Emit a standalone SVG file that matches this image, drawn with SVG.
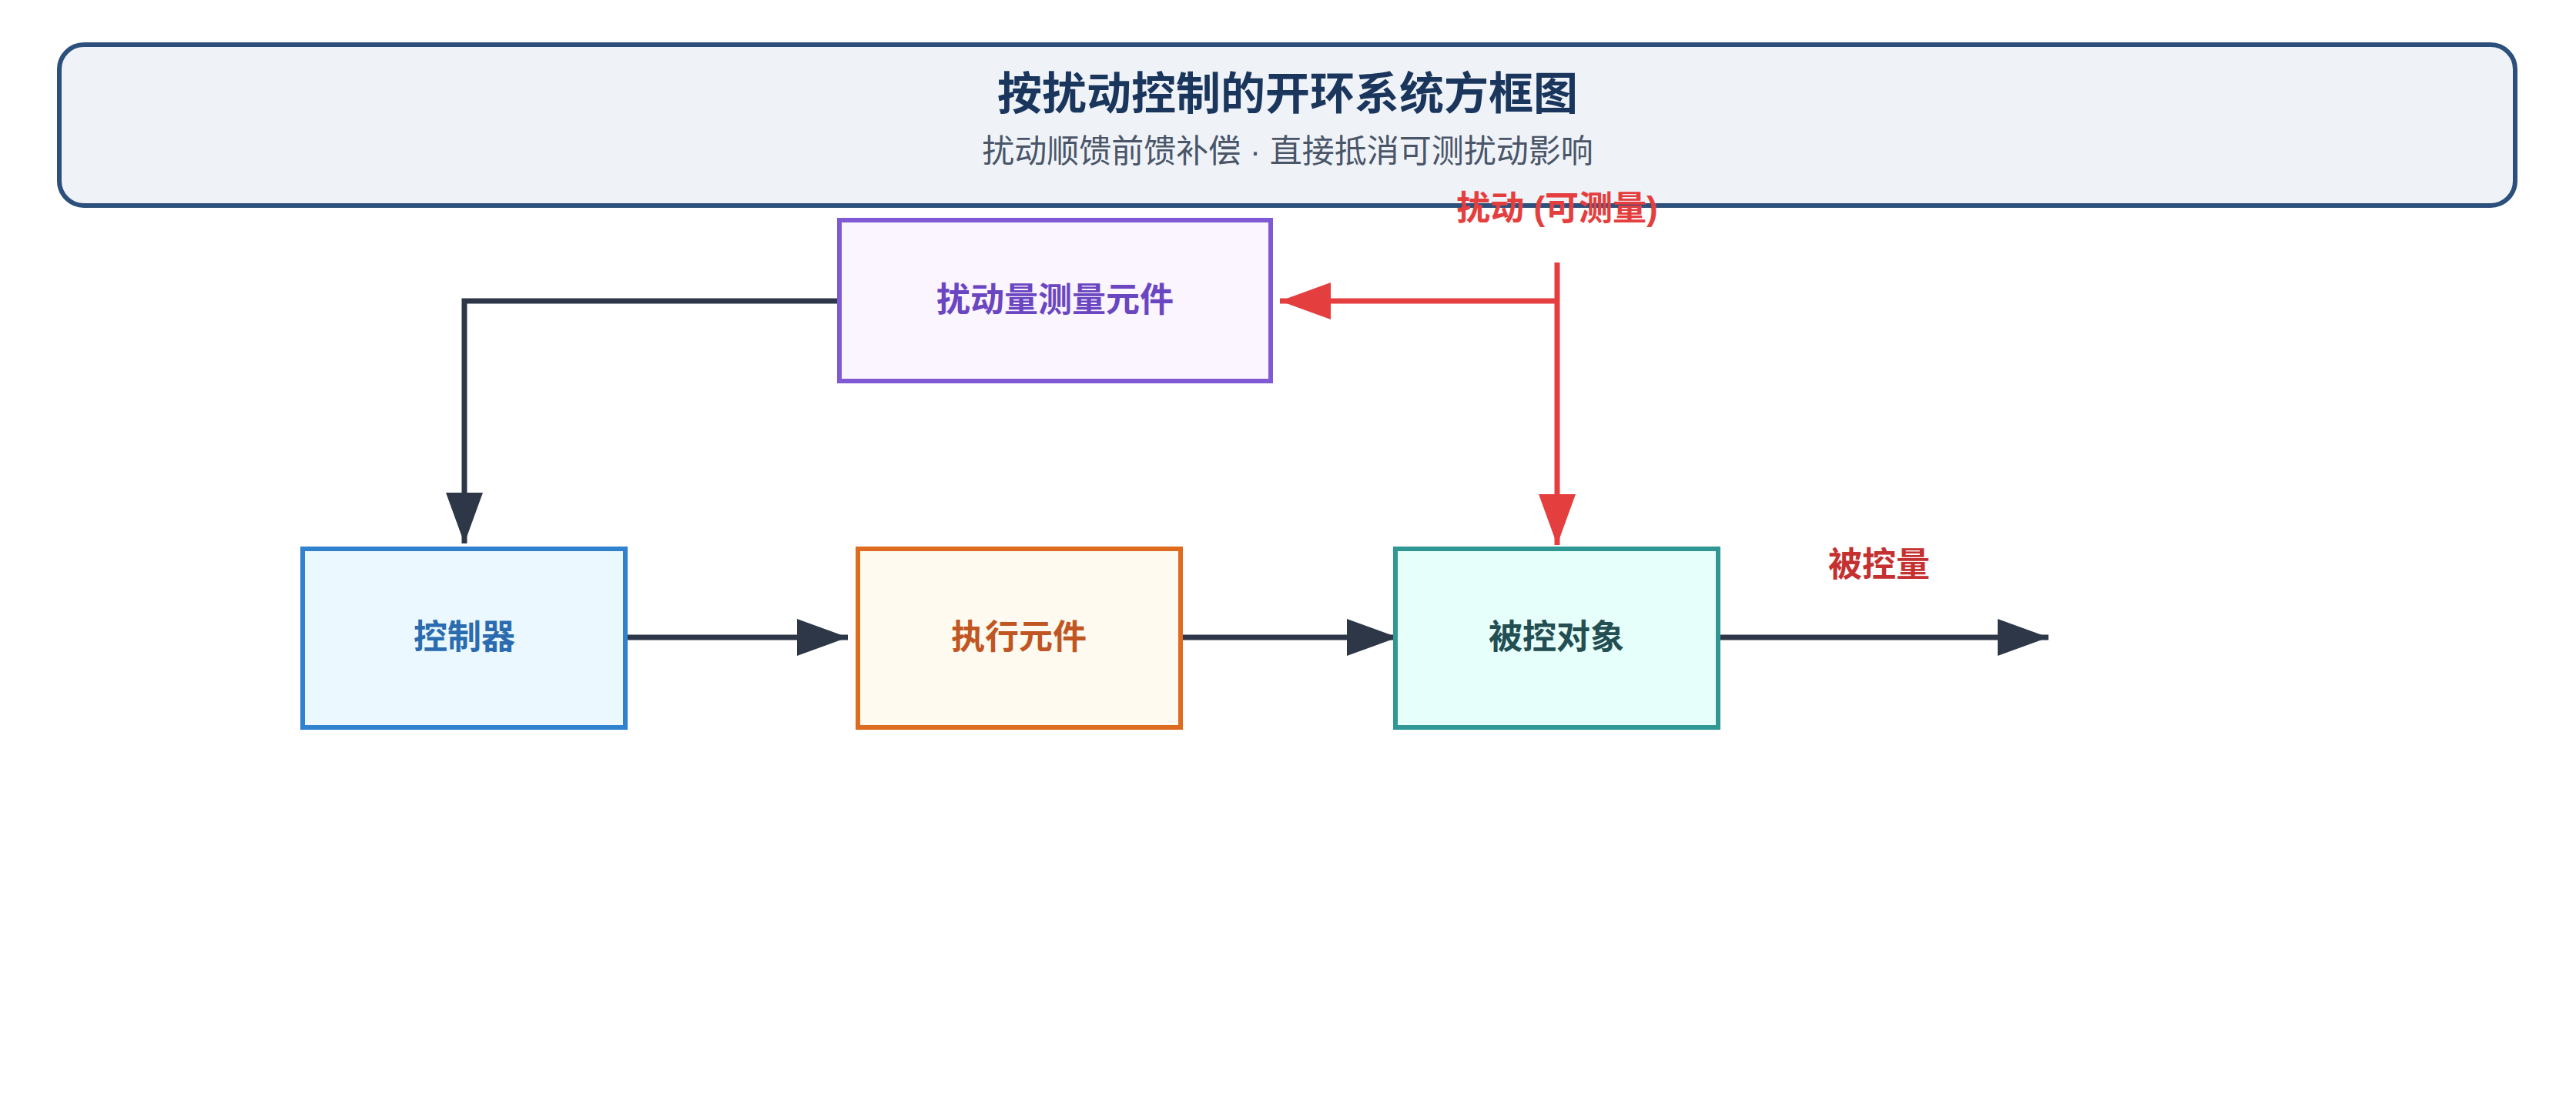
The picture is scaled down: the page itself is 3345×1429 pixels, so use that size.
<svg xmlns="http://www.w3.org/2000/svg" width="3345" height="1429" viewBox="0 0 3345 1429">
<style>
text{font-family:"Liberation Sans","Noto Sans CJK SC",sans-serif;text-anchor:middle;font-weight:bold}
.node rect{stroke-width:6}
.nl{font-size:44px}
.dk{stroke:#2d3748;stroke-width:7;fill:none}
.rd{stroke:#e53e3e;stroke-width:7;fill:none}
</style>
<defs>
<marker id="ad" markerUnits="userSpaceOnUse" markerWidth="70" markerHeight="50" refX="66" refY="24" orient="auto"><path d="M0,0 L66,24 L0,48 Z" fill="#2d3748"/></marker>
<marker id="ar" markerUnits="userSpaceOnUse" markerWidth="70" markerHeight="50" refX="66" refY="24" orient="auto"><path d="M0,0 L66,24 L0,48 Z" fill="#e53e3e"/></marker>
</defs>
<rect width="3345" height="1429" fill="#fff"/>
<g id="header">
<rect x="77" y="58" width="3189" height="209" rx="32" fill="#eff3f8" stroke="#2c4f7c" stroke-width="6"/>
<text x="1672" y="142" font-size="58" fill="#1a365d">按扰动控制的开环系统方框图</text>
<text x="1672" y="211" font-size="42" font-weight="normal" fill="#4a5568" style="font-weight:normal">扰动顺馈前馈补偿 · 直接抵消可测扰动影响</text>
</g>
<g id="connectors">
<path class="dk" d="M1090,391 H603 V706" marker-end="url(#ad)"/>
<path class="dk" d="M813,828 H1101" marker-end="url(#ad)"/>
<path class="dk" d="M1534,828 H1815" marker-end="url(#ad)"/>
<path class="dk" d="M2231,828 H2660" marker-end="url(#ad)"/>
<path class="rd" d="M2022,341 V708" marker-end="url(#ar)"/>
<path class="rd" d="M2022,391 H1662" marker-end="url(#ar)"/>
</g>
<g id="disturbance"><text x="2022" y="286" font-size="44" fill="#e53e3e">扰动 (可测量)</text></g>
<g id="output"><text x="2440" y="749" font-size="44" fill="#c53030">被控量</text></g>
<g id="measure" class="node"><rect x="1090" y="286" width="560" height="209" fill="#faf5ff" stroke="#805ad5"/><text class="nl" x="1370" y="405" fill="#6b46c1">扰动量测量元件</text></g>
<g id="controller" class="node"><rect x="393" y="713" width="419" height="232" fill="#ebf8ff" stroke="#3182ce"/><text class="nl" x="603" y="843" fill="#2b6cb0">控制器</text></g>
<g id="actuator" class="node"><rect x="1114" y="713" width="419" height="232" fill="#fffaf0" stroke="#dd6b20"/><text class="nl" x="1323" y="843" fill="#c05621">执行元件</text></g>
<g id="plant" class="node"><rect x="1812" y="713" width="419" height="232" fill="#e6fffa" stroke="#319795"/><text class="nl" x="2021" y="843" fill="#234e52">被控对象</text></g>
</svg>
